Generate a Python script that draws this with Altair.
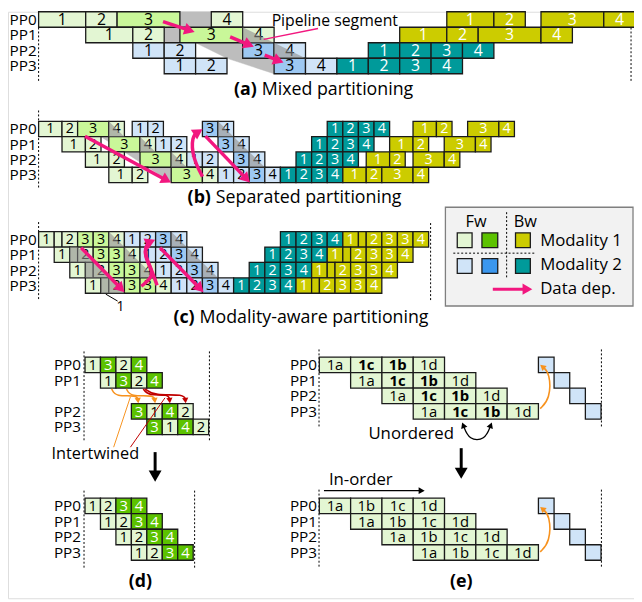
import math
import altair as alt
import pandas as pd

# ---------------- colours ----------------
COL = {"pg": "#E3F6D3", "lg": "#C9F799", "dg": "#5CC200", "pb": "#D0E4F8",
       "mb": "#9DC8F2", "bb": "#3B97EE", "ol": "#CCCC00", "te": "#009A9A"}
DARK = {"dg", "bb", "ol", "te"}
PINK = "#F2177F"
ORANGE = "#F7921E"
RED = "#C00000"
GRAY = "#8E8E8E"
BAND = "#BDBDBD"
FONT = "Open Sans"

# ---------------- data ----------------
# (row, start slot, end slot, label, kind, shade)
A_BLOCKS = [
    (0, 0, 1.5, "1", "pg", ""), (0, 1.5, 2.5, "2", "pg", ""), (0, 2.5, 4.5, "3", "lg", ""), (0, 5.5, 6.5, "4", "pg", ""),
    (0, 13, 14.5, "1", "ol", ""), (0, 14.5, 15.5, "2", "ol", ""), (0, 16, 18, "3", "ol", ""), (0, 18, 19, "4", "ol", ""),
    (1, 1.5, 3, "1", "pg", ""), (1, 3, 4, "2", "pg", ""), (1, 4.5, 6.5, "3", "lg", ""), (1, 6.5, 7.5, "4", "pg", "tri"),
    (1, 11.5, 13, "1", "ol", ""), (1, 13, 14, "2", "ol", ""), (1, 14, 16, "3", "ol", ""), (1, 16, 17, "4", "ol", ""),
    (2, 3, 4, "1", "pb", ""), (2, 4, 5, "2", "pb", ""), (2, 6.5, 7.5, "3", "mb", ""), (2, 7.5, 8.5, "4", "pb", "tri"),
    (2, 10.5, 11.5, "1", "te", ""), (2, 11.5, 12.5, "2", "te", ""), (2, 12.5, 13.5, "3", "te", ""), (2, 13.5, 14.5, "4", "te", ""),
    (3, 4, 5, "1", "pb", ""), (3, 5, 6, "2", "pb", ""), (3, 7.5, 8.5, "3", "mb", ""), (3, 8.5, 9.5, "4", "pb", ""),
    (3, 9.5, 10.5, "1", "te", ""), (3, 10.5, 11.5, "2", "te", ""), (3, 11.5, 12.5, "3", "te", ""), (3, 12.5, 13.5, "4", "te", ""),
]
A_BAND = [(4, 0), (5.5, 0), (8.5, 3), (7.5, 4), (6, 3), (5, 2), (4, 2)]

B_BLOCKS = [
    (0, 0, 1.5, "1", "pg", ""), (0, 1.5, 2.5, "2", "pg", ""), (0, 2.5, 4.5, "3", "lg", ""), (0, 4.5, 5.5, "4", "pg", "tri"),
    (0, 6, 7, "1", "pb", ""), (0, 7, 8, "2", "pb", ""), (0, 10.5, 11.5, "3", "mb", ""), (0, 11.5, 12.5, "4", "pb", "tri"),
    (0, 18.5, 19.5, "1", "te", ""), (0, 19.5, 20.5, "2", "te", ""), (0, 20.5, 21.5, "3", "te", ""), (0, 21.5, 22.5, "4", "te", ""),
    (0, 24, 25.5, "1", "ol", ""), (0, 25.5, 26.5, "2", "ol", ""), (0, 27.5, 29.5, "3", "ol", ""), (0, 29.5, 30.5, "4", "ol", ""),
    (1, 1.5, 3, "1", "pg", ""), (1, 3, 4, "2", "pg", ""), (1, 4.5, 6.5, "3", "lg", ""), (1, 6.5, 7.5, "4", "pg", "tri"),
    (1, 7.5, 8.5, "1", "pb", ""), (1, 8.5, 9.5, "2", "pb", ""), (1, 11.5, 12.5, "3", "mb", ""), (1, 12.5, 13.5, "4", "pb", "tri"),
    (1, 17.5, 18.5, "1", "te", ""), (1, 18.5, 19.5, "2", "te", ""), (1, 19.5, 20.5, "3", "te", ""), (1, 20.5, 21.5, "4", "te", ""),
    (1, 22.5, 24, "1", "ol", ""), (1, 24, 25, "2", "ol", ""), (1, 26, 28, "3", "ol", ""), (1, 28, 29, "4", "ol", ""),
    (2, 3, 4.5, "1", "pg", ""), (2, 4.5, 5.5, "2", "pg", ""), (2, 6.5, 8.5, "3", "lg", ""), (2, 8.5, 9.5, "4", "pg", "tri"),
    (2, 9.5, 10.5, "1", "pb", ""), (2, 10.5, 11.5, "2", "pb", ""), (2, 12.5, 13.5, "3", "mb", ""), (2, 13.5, 14.5, "4", "pb", "tri"),
    (2, 16.5, 17.5, "1", "te", ""), (2, 17.5, 18.5, "2", "te", ""), (2, 18.5, 19.5, "3", "te", ""), (2, 19.5, 20.5, "4", "te", ""),
    (2, 21, 22.5, "1", "ol", ""), (2, 22.5, 23.5, "2", "ol", ""), (2, 24, 26, "3", "ol", ""), (2, 26, 27, "4", "ol", ""),
    (3, 4.5, 6, "1", "pg", ""), (3, 6, 7, "2", "pg", ""), (3, 8.5, 10.5, "3", "lg", ""), (3, 10.5, 11.5, "4", "pg", ""),
    (3, 11.5, 12.5, "1", "pb", ""), (3, 12.5, 13.5, "2", "pb", ""), (3, 13.5, 14.5, "3", "mb", ""), (3, 14.5, 15.5, "4", "pb", ""),
    (3, 15.5, 16.5, "1", "te", ""), (3, 16.5, 17.5, "2", "te", ""), (3, 17.5, 18.5, "3", "te", ""), (3, 18.5, 19.5, "4", "te", ""),
    (3, 19.5, 21, "1", "ol", ""), (3, 21, 22, "2", "ol", ""), (3, 22, 24, "3", "ol", ""), (3, 24, 25, "4", "ol", ""),
]
B_BAND = [(4.5, 0), (5.5, 1), (10.5, 4), (8.5, 4), (4, 1)]

# (c): forward pattern shifted by +row, backward pattern starting at 15.5 - row
C_FW = [(0, 1, "1", "pg"), (1, 1.5, "", "pg"), (1.5, 2.5, "2", "pg"), (2.5, 3.5, "3", "lg"), (3.5, 4.5, "3", "lg"),
        (4.5, 5.5, "4", "pg"), (5.5, 6.5, "1", "pb"), (6.5, 7.5, "2", "pb"), (7.5, 8.5, "3", "mb"), (8.5, 9.5, "4", "pb")]
C_BW = [(0, 1, "1", "te"), (1, 2, "2", "te"), (2, 3, "3", "te"), (3, 4, "4", "te"), (4, 5, "1", "ol"), (5, 5.5, "", "ol"),
        (5.5, 6.5, "2", "ol"), (6.5, 7.5, "3", "ol"), (7.5, 8.5, "3", "ol"), (8.5, 9.5, "4", "ol")]
C_BW_START = 15.5

D1_ROWS = [0, 1, 3, 4]
D1_START = [0, 1, 3, 4]
D1_LABELS = [["1", "3", "2", "4"], ["1", "3", "2", "4"], ["3", "1", "4", "2"], ["3", "1", "4", "2"]]
D2_LABELS = ["1", "2", "3", "4"]
DARK_MB = {"3", "4"}

E1_LABELS = ["1a", "1c", "1b", "1d"]
E1_BOLD = [False, True, True, False]
E2_LABELS = ["1a", "1b", "1c", "1d"]

PP_NAMES = ["PP0", "PP1", "PP2", "PP3"]

# ---------------- layout ----------------
LAYOUT = {
    "a": dict(x0=39, u=31.8, y0=8, h=15.7, fs=16, lab=37),
    "b": dict(x0=39, u=15.8, y0=119, h=15.5, fs=14.5, lab=37),
    "c": dict(x0=39, u=15.8, y0=230.7, h=15.6, fs=14.5, lab=37),
    "d1": dict(x0=86, u=15.65, y0=357.7, h=15.7, fs=15, lab=82),
    "d2": dict(x0=86, u=15.65, y0=500.7, h=15.7, fs=15, lab=82),
    "e1": dict(x0=323.3, u=31.7, y0=357.7, h=15.7, fs=15, lab=321),
    "e2": dict(x0=323.3, u=31.7, y0=500.7, h=15.7, fs=15, lab=321),
}
PP_FS = 15.5

rects, texts, over, bands, lines, heads = [], [], [], [], [], []


def add_text(x, y, t, size=16, color="black", weight="normal", align="center"):
    texts.append(dict(x=x, y=y, text=t, size=size, color=color, weight=weight, align=align))


def add_block(p, row, s, e, label, kind, shade="", bold=False):
    L = LAYOUT[p]
    x1 = L["x0"] + s * L["u"]
    x2 = L["x0"] + e * L["u"]
    y1 = L["y0"] + row * L["h"]
    y2 = y1 + L["h"]
    rects.append(dict(x=x1, x2=x2, y=y1, y2=y2, fill=COL[kind]))
    if label:
        add_text((x1 + x2) / 2, (y1 + y2) / 2 + 0.5, label, L["fs"],
                 "white" if kind in DARK else "black", "bold" if bold else "normal")
    pid = f"o{len(over)}_{p}_{row}_{s}"
    if shade == "tri":
        pts = [(x1, y1), (x1, y2), (x2, y2)]
    elif shade == "full":
        pts = [(x1, y1), (x2, y1), (x2, y2), (x1, y2)]
    else:
        pts = []
    for i, (px, py) in enumerate(pts):
        over.append(dict(id=pid, o=i, x=px, y=py))


def add_band(p, pts):
    L = LAYOUT[p]
    for i, (s, r) in enumerate(pts):
        bands.append(dict(id="band_" + p, o=i, x=L["x0"] + s * L["u"], y=L["y0"] + r * L["h"]))


def add_pp(p, rows):
    L = LAYOUT[p]
    for name, r in zip(PP_NAMES, rows):
        add_text(L["lab"], L["y0"] + (r + 0.5) * L["h"] + 0.5, name, PP_FS, align="right")


for blk in A_BLOCKS:
    add_block("a", *blk)
for blk in B_BLOCKS:
    add_block("b", *blk)
for r in range(4):
    for i, (s, e, lab, kind) in enumerate(C_FW):
        shade = ""
        if i in (5, 9) and r <= 2:
            shade = "tri"
        if r >= 1 and i == 1:
            shade = "full"
        if r >= 1 and i == 2:
            shade = "tri"
        add_block("c", r, s + r, e + r, lab, kind, shade)
    for s, e, lab, kind in C_BW:
        add_block("c", r, C_BW_START - r + s, C_BW_START - r + e, lab, kind)
for row, st, labs in zip(D1_ROWS, D1_START, D1_LABELS):
    for k, lab in enumerate(labs):
        add_block("d1", row, st + k, st + k + 1, lab, "dg" if lab in DARK_MB else "pg")
for r in range(4):
    for k, lab in enumerate(D2_LABELS):
        add_block("d2", r, r + k, r + k + 1, lab, "dg" if lab in DARK_MB else "pg")
for r in range(4):
    for k, (lab, b) in enumerate(zip(E1_LABELS, E1_BOLD)):
        add_block("e1", r, r + k, r + k + 1, lab, "pg", bold=b)
    add_block("e1", r, 7 + 0.5 * r, 7.5 + 0.5 * r, "", "pb")
    for k, lab in enumerate(E2_LABELS):
        add_block("e2", r, r + k, r + k + 1, lab, "pg")
    add_block("e2", r, 7 + 0.5 * r, 7.5 + 0.5 * r, "", "pb")

add_band("a", A_BAND)
add_band("b", B_BAND)
add_pp("a", [0, 1, 2, 3])
add_pp("b", [0, 1, 2, 3])
add_pp("c", [0, 1, 2, 3])
add_pp("d1", D1_ROWS)
add_pp("d2", [0, 1, 2, 3])
add_pp("e1", [0, 1, 2, 3])
add_pp("e2", [0, 1, 2, 3])

# titles and annotations
TS = 18
add_text(260, 87, "(a)", TS, weight="bold", align="right")
add_text(265, 87, "Mixed partitioning", TS, align="left")
add_text(213.5, 197, "(b)", TS, weight="bold", align="right")
add_text(218.5, 197, "Separated partitioning", TS, align="left")
add_text(197, 318, "(c)", TS, weight="bold", align="right")
add_text(202, 318, "Modality-aware partitioning", TS, align="left")
add_text(142, 586, "(d)", TS, weight="bold")
add_text(467, 586, "(e)", TS, weight="bold")
add_text(275, 17.5, "Pipeline segment", 16, align="left")
add_text(52, 456, "Intertwined", 16.5, align="left")
add_text(373, 436, "Unordered", 17, align="left")
add_text(333, 482, "In-order", 17, align="left")
add_text(122, 307, "1", 14)

# legend
LEG_BOX = [dict(x=451, x2=641, y=206, y2=306)]
LEG_SQ = [(463, 478, 232, 247, "pg"), (488, 504, 232, 247, "dg"), (522, 537, 232, 247, "ol"),
          (463, 478, 258, 273, "pb"), (488, 504, 258, 273, "bb"), (522, 537, 258, 273, "te")]
for x1, x2, y1, y2, k in LEG_SQ:
    rects.append(dict(x=x1, x2=x2, y=y1, y2=y2, fill=COL[k]))
add_text(482, 221, "Fw", 16.5)
add_text(532, 221, "Bw", 16.5)
add_text(547, 240, "Modality 1", 17, align="left")
add_text(547, 265, "Modality 2", 17, align="left")
add_text(547, 289, "Data dep.", 17, align="left")

# arrows: (colour, width, heads, head size, points)
ARROWS = [
    (PINK, 3.5, "end", 150, [(165, 18), (197, 28.5)]),
    (PINK, 3.5, "end", 150, [(233, 33.5), (257, 43.5)]),
    (PINK, 3.5, "end", 150, [(268, 52), (287, 59.5)]),
    (PINK, 1.5, "", 0, [(267, 36), (322, 25)]),
    (PINK, 3.5, "end", 140, [(86, 134), (173, 181)]),
    (PINK, 3.5, "end", 140, [(205, 175), (195, 156), (194, 134), (205, 127)]),
    (PINK, 3.5, "end", 140, [(208, 134), (253, 181)]),
    (PINK, 3.5, "end", 140, [(82, 247), (126, 292)]),
    (PINK, 3.5, "end", 140, [(143, 286), (158, 274), (146, 258), (148, 243), (157, 239)]),
    (PINK, 3.5, "", 0, [(159, 285), (152, 266), (145, 250), (151, 241)]),
    (PINK, 3.5, "end", 140, [(162, 247), (206, 292)]),
    ("black", 1, "", 0, [(107, 294), (119, 301)]),
    (PINK, 3, "end", 130, [(499, 289), (539, 289)]),
    (ORANGE, 1.6, "end", 40, [(113, 390), (117, 398), (139, 396), (140, 404.5)]),
    (ORANGE, 1.6, "end", 40, [(128, 390), (132, 398), (156, 396), (157, 404.5)]),
    (RED, 1.6, "end", 40, [(145, 390), (150, 397), (171, 395), (172, 404.5)]),
    (RED, 1.6, "end", 40, [(147, 390), (156, 397), (187, 395), (188, 404.5)]),
    (ORANGE, 1, "", 0, [(115, 449), (132, 398)]),
    (RED, 1, "", 0, [(132, 449), (167, 399)]),
    ("black", 3, "end", 170, [(157, 454), (157, 484)]),
    (ORANGE, 1.6, "end", 45, [(547, 410), (557, 400), (557, 374), (547, 365.5)]),
    (ORANGE, 1.6, "end", 45, [(547, 555), (557, 545), (557, 518), (547, 509.5)]),
    ("black", 1.3, "both", 45, [(468, 424), (475, 442), (491, 442), (498, 424)]),
    ("black", 1.1, "end", 50, [(328, 493), (430, 493)]),
    ("black", 3, "end", 170, [(467, 450), (467, 481)]),
]


def head_at(tip, prev, size, color):
    dx, dy = tip[0] - prev[0], tip[1] - prev[1]
    n = math.hypot(dx, dy) or 1.0
    ux, uy = dx / n, dy / n
    back = 0.433 * math.sqrt(size)
    cx, cy = tip[0] - ux * back, tip[1] - uy * back
    ang = math.degrees(math.atan2(dx, -dy)) % 360
    heads.append(dict(x=cx, y=cy, ang=ang, s=size, color=color))
    return (cx, cy)


for k, (color, w, hd, hs, pts) in enumerate(ARROWS):
    pts = list(pts)
    if hd in ("end", "both"):
        pts[-1] = head_at(pts[-1], pts[-2], hs, color)
    if hd == "both":
        pts[0] = head_at(pts[0], pts[1], hs, color)
    for i, (px, py) in enumerate(pts):
        lines.append(dict(id=f"ar{k}", o=i, x=px, y=py, color=color, w=w))

# dotted guide lines (x, y1, y2)
VRULES = [(39, 8, 78), (639, 8, 78), (39, 108, 188), (39, 221, 300), (436, 222, 300),
          (85, 352, 443), (212, 352, 443), (85, 493, 572), (197, 493, 572),
          (323, 350, 428), (609, 350, 428), (323, 492, 572), (609, 492, 572),
          (513, 211, 277)]
HRULES = [(459, 543, 252.5)]

# ---------------- chart ----------------
xs = alt.Scale(domain=[8, 642], nice=False, zero=False)
ys = alt.Scale(domain=[8, 602], nice=False, zero=False, reverse=True)
X = alt.X("x:Q", scale=xs, axis=None)
Y = alt.Y("y:Q", scale=ys, axis=None)

band_layer = alt.Chart(pd.DataFrame(bands)).mark_line(
    fill=BAND, stroke=BAND, strokeWidth=0.5, interpolate="linear-closed"
).encode(x=X, y=Y, detail="id:N", order="o:Q")

legbox = alt.Chart(pd.DataFrame(LEG_BOX)).mark_rect(
    fill="#F2F2F2", stroke="#7F7F7F", strokeWidth=1.3
).encode(x=X, x2="x2:Q", y=Y, y2="y2:Q")

vr = alt.Chart(pd.DataFrame(VRULES, columns=["x", "y", "y2"])).mark_rule(
    strokeDash=[2, 2], color="black", strokeWidth=1
).encode(x=X, y=Y, y2="y2:Q")
hr = alt.Chart(pd.DataFrame(HRULES, columns=["x", "x2", "y"])).mark_rule(
    strokeDash=[2, 2], color="black", strokeWidth=1
).encode(x=X, x2="x2:Q", y=Y)

rect_layer = alt.Chart(pd.DataFrame(rects)).mark_rect(
    stroke="#1A1A1A", strokeWidth=1.3
).encode(x=X, x2="x2:Q", y=Y, y2="y2:Q", fill=alt.Fill("fill:N", scale=None))

tdf = pd.DataFrame(texts)
text_layers = []
for (wgt, al), sub in tdf.groupby(["weight", "align"]):
    text_layers.append(
        alt.Chart(sub).mark_text(font=FONT, fontWeight=wgt, align=al, baseline="middle").encode(
            x=X, y=Y, text="text:N",
            color=alt.Color("color:N", scale=None),
            size=alt.Size("size:Q", scale=None),
        )
    )

over_layer = alt.Chart(pd.DataFrame(over)).mark_line(
    fill=GRAY, fillOpacity=0.6, strokeWidth=0, interpolate="linear-closed"
).encode(x=X, y=Y, detail="id:N", order="o:Q")

line_layer = alt.Chart(pd.DataFrame(lines)).mark_line(
    interpolate="basis", strokeCap="butt"
).encode(
    x=X, y=Y, detail="id:N", order="o:Q",
    color=alt.Color("color:N", scale=None),
    strokeWidth=alt.StrokeWidth("w:Q", scale=None),
)

head_layer = alt.Chart(pd.DataFrame(heads)).mark_point(
    shape="triangle-up", filled=True, opacity=1, strokeWidth=0
).encode(
    x=X, y=Y,
    angle=alt.Angle("ang:Q", scale=None),
    size=alt.Size("s:Q", scale=None),
    color=alt.Color("color:N", scale=None),
)

chart = alt.layer(
    band_layer, legbox, vr, hr, rect_layer, *text_layers, over_layer, line_layer, head_layer
).properties(
    width=634, height=594, padding=0, autosize=alt.AutoSizeParams(type="none")
).configure_view(stroke=None).configure(background="white")

chart.save("out.html", embed_options={"renderer": "svg", "actions": False})
